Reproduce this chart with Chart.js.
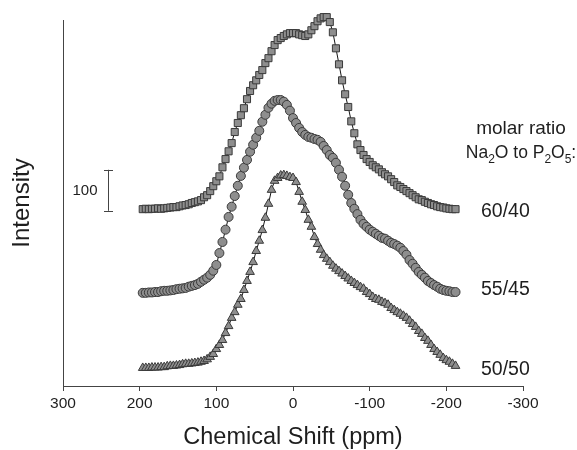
<!DOCTYPE html>
<html><head><meta charset="utf-8">
<script src="https://cdn.jsdelivr.net/npm/chart.js@4.4.0/dist/chart.umd.min.js"></script>
<style>html,body{margin:0;padding:0;background:#fff;}#wrap{width:577px;height:450px;}</style>
</head><body><div id="wrap"><canvas id="c" width="577" height="450"></canvas></div>
<script>
// Chemical shift (ppm) of every sample point
const shiftPpm = [
 196,192,188,184,180,176,172,168,164,160,
 156,152,148,144,140,136,132,128,124,120,
 116,112,108,104,100,96,92,88,84,80,
 76,72,68,64,60,56,52,48,44,40,
 36,32,28,24,20,16,12,8,4,0,
 -4,-8,-12,-16,-20,-24,-28,-32,-36,-40,
 -44,-48,-52,-56,-60,-64,-68,-72,-76,-80,
 -84,-88,-92,-96,-100,-104,-108,-112,-116,-120,
 -124,-128,-132,-136,-140,-144,-148,-152,-156,-160,
 -164,-168,-172,-176,-180,-184,-188,-192,-196,-200,
 -204,-208,-212];
// Intensities (same units as the "100" scale bar), above each trace's own baseline
const ratio6040 = [
 0,1,0,1,1,2,1,2,3,4,
 5,5,7,9,10,12,15,17,19,22,
 29,34,44,56,68,80,102,122,141,161,
 188,210,229,246,268,288,302,314,327,339,
 356,368,385,400,412,417,422,426,429,429,
 429,426,424,422,426,436,446,458,465,468,
 468,456,431,392,353,314,280,249,214,185,
 158,144,132,122,115,107,102,97,90,85,
 80,73,66,58,54,49,44,39,34,29,
 24,22,18,15,12,10,7,5,4,2,
 1,0,0];
const ratio5545 = [
 0,0,1,1,2,2,4,5,5,6,
 7,9,10,11,12,15,17,19,22,27,
 32,37,44,54,68,97,124,154,185,210,
 236,261,285,305,324,344,361,378,395,417,
 434,451,461,468,470,470,466,458,444,426,
 414,402,392,385,380,378,375,373,368,358,
 348,336,329,317,300,283,261,239,219,205,
 192,178,168,161,154,149,144,139,134,132,
 127,122,119,115,110,102,93,80,71,61,
 51,44,37,29,24,19,15,10,7,5,
 4,2,2];
const ratio5050 = [
 0,0,0,1,1,1,2,2,4,5,
 5,6,7,9,10,10,11,12,13,15,
 17,21,27,34,46,56,68,85,102,122,
 136,154,168,190,212,234,258,285,310,336,
 366,400,434,456,463,469,470,468,465,463,
 453,429,405,385,361,344,319,302,288,275,
 266,258,249,242,236,230,224,218,212,207,
 202,197,193,185,180,173,168,166,161,158,
 154,146,141,136,132,127,122,115,107,100,
 90,83,73,66,56,46,39,32,24,19,
 15,10,5];
const seriesLabels = ['60/40','55/45','50/50'];
const seriesOffsets = [431, 227, 44];
const xTickValues = [300,200,100,0,-100,-200,-300];
const scaleBarSize = 100;
const scaleBarBase = 427;
const scaleBarPpm = 241;

const FONT = "'Liberation Sans', Arial, Helvetica, sans-serif";
const TXT = '#1e1e1e';

function makeSet(label, vals, off, style, radius){
  return {
    label, data: shiftPpm.map((x,i)=>({x, y: vals[i] + off})),
    showLine:true, borderColor:'#151515', borderWidth:1, tension:0,
    pointStyle:style, pointRadius:radius, pointBorderWidth:1,
    pointBorderColor:'#3a3a3a', pointBackgroundColor:'#8e8e8e', clip:false
  };
}

const annot = {
  id:'annot',
  afterDraw(chart){
    const ctx = chart.ctx, xs = chart.scales.x, ys = chart.scales.y;
    ctx.save();
    // scale bar
    const bx = Math.round(xs.getPixelForValue(scaleBarPpm)) + 0.5;
    const y0 = ys.getPixelForValue(scaleBarBase), y1 = ys.getPixelForValue(scaleBarBase + scaleBarSize);
    ctx.strokeStyle = '#444'; ctx.lineWidth = 1;
    ctx.beginPath();
    ctx.moveTo(bx, y0); ctx.lineTo(bx, y1);
    ctx.moveTo(bx-4.5, Math.round(y0)+0.5); ctx.lineTo(bx+4.5, Math.round(y0)+0.5);
    ctx.moveTo(bx-4.5, Math.round(y1)+0.5); ctx.lineTo(bx+4.5, Math.round(y1)+0.5);
    ctx.stroke();
    ctx.fillStyle = TXT;
    ctx.font = '15px ' + FONT;
    ctx.textAlign = 'right'; ctx.textBaseline = 'middle';
    ctx.fillText(String(scaleBarSize), bx - 11, (y0+y1)/2 + 1);
    // legend text
    ctx.textBaseline = 'alphabetic';
    ctx.font = '19px ' + FONT;
    ctx.textAlign = 'center';
    ctx.fillText('molar ratio', 521, 134);
    const parts = [['Na',0],['2',1],['O to P',0],['2',1],['O',0],['5',1],[':',0]];
    const big = '17.5px ' + FONT, small = '12px ' + FONT;
    let w = 0;
    parts.forEach(p=>{ ctx.font = p[1]?small:big; w += ctx.measureText(p[0]).width; });
    let x = 521 - w/2;
    ctx.textAlign = 'left';
    parts.forEach(p=>{
      ctx.font = p[1]?small:big;
      ctx.fillText(p[0], x, 158 + (p[1]?5:0));
      x += ctx.measureText(p[0]).width;
    });
    ctx.font = '19.5px ' + FONT;
    const labelY = [217, 295, 375];
    seriesLabels.forEach((t,i)=>{ ctx.fillText(t, 481, labelY[i]); });
    ctx.restore();
  }
};

new Chart(document.getElementById('c'), {
  type:'scatter',
  data:{ datasets:[
    makeSet(seriesLabels[0], ratio6040, seriesOffsets[0], 'rect', 5),
    makeSet(seriesLabels[1], ratio5545, seriesOffsets[1], 'circle', 4.5),
    makeSet(seriesLabels[2], ratio5050, seriesOffsets[2], 'triangle', 5)
  ]},
  options:{
    responsive:false, animation:false, devicePixelRatio:1,
    layout:{padding:{left:0,right:54,top:20,bottom:0}},
    plugins:{legend:{display:false}, tooltip:{enabled:false}},
    scales:{
      x:{type:'linear', reverse:true, min:-300, max:300,
        afterBuildTicks(s){ s.ticks = xTickValues.map(v=>({value:v})); },
        ticks:{font:{family:FONT,size:15.5}, color:TXT, padding:3, maxRotation:0, autoSkip:false},
        grid:{display:true, drawOnChartArea:false, drawTicks:true, tickLength:5, color:'#444', lineWidth:1},
        border:{display:true, color:'#444', width:1},
        title:{display:true, text:'Chemical Shift (ppm)', color:TXT, font:{family:FONT,size:23.5,lineHeight:1.1}, padding:{top:0,bottom:0}},
        afterFit(s){ s.height = 64; }
      },
      y:{type:'linear', min:0, max:892,
        ticks:{display:false}, grid:{display:false},
        border:{display:true, color:'#444', width:1},
        title:{display:true, text:'Intensity', color:TXT, font:{family:FONT,size:24,lineHeight:1.1}, padding:{top:9,bottom:0}},
        afterFit(s){ s.width = 63; }
      }
    }
  },
  plugins:[annot]
});
</script></body></html>
